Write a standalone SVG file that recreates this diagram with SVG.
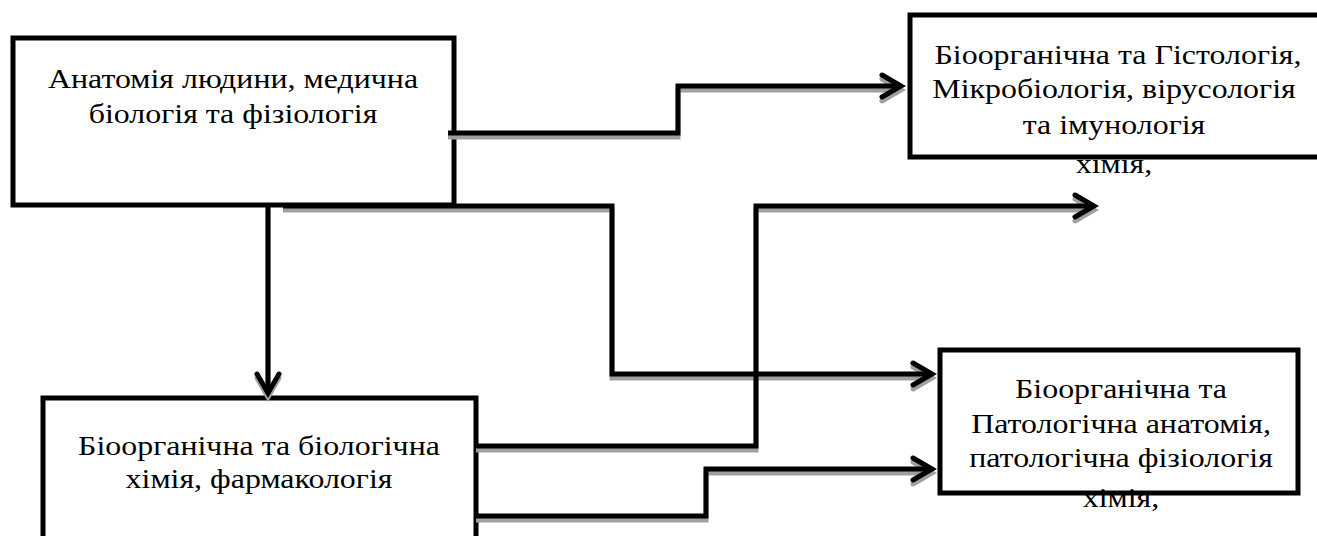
<svg xmlns="http://www.w3.org/2000/svg" width="1317" height="536" viewBox="0 0 1317 536">
<style>
.box{fill:#fff;stroke:#000;stroke-width:5}
.t{font-family:'Liberation Serif','Times New Roman',serif;font-size:28px;fill:#000;text-anchor:middle}
.ln{fill:none;stroke:#000;stroke-width:5;stroke-linejoin:miter}
.sh{fill:none;stroke:#a0a0a0;stroke-width:5;stroke-linejoin:miter}
</style>
<defs>
<marker id="ah" markerUnits="userSpaceOnUse" markerWidth="40" markerHeight="40" viewBox="-30 -20 40 40" refX="0" refY="0" orient="auto" overflow="visible">
<path d="M-19,-11 L0,0 L-19,11" fill="none" stroke="#000" stroke-width="5" stroke-linecap="round"/>
</marker>
<marker id="ahs" markerUnits="userSpaceOnUse" markerWidth="40" markerHeight="40" viewBox="-30 -20 40 40" refX="0" refY="0" orient="auto" overflow="visible">
<path d="M-19,-11 L0,0 L-19,11" fill="none" stroke="#a0a0a0" stroke-width="5" stroke-linecap="round"/>
</marker>
</defs>
<g id="node-anatomy">
<rect class="box" x="13" y="38" width="441" height="167"/>
</g>
<g id="node-histology">
<rect class="box" x="910" y="15" width="420" height="142"/>
</g>
<g id="node-biochem">
<rect class="box" x="43" y="398" width="433" height="160"/>
</g>
<g id="node-pathology">
<rect class="box" x="940" y="350" width="358" height="143"/>
</g>
<g id="connectors">
<g transform="translate(0,4)">
<path class="sh" d="M448,133 H678 V86 H901" marker-end="url(#ahs)"/>
<path class="sh" d="M268,205 V393" marker-end="url(#ahs)"/>
<path class="sh" d="M283,206 H612 V374 H932" marker-end="url(#ahs)"/>
<path class="sh" d="M476,446 H756 V206 H1094" marker-end="url(#ahs)"/>
<path class="sh" d="M476,516 H706 V469 H932" marker-end="url(#ahs)"/>
</g>
<path class="ln" d="M448,133 H678 V86 H901" marker-end="url(#ah)"/>
<path class="ln" d="M268,205 V393" marker-end="url(#ah)"/>
<path class="ln" d="M283,206 H612 V374 H932" marker-end="url(#ah)"/>
<path class="ln" d="M476,446 H756 V206 H1094" marker-end="url(#ah)"/>
<path class="ln" d="M476,516 H706 V469 H932" marker-end="url(#ah)"/>
</g>
<g id="labels">
<text class="t" transform="translate(233,88) scale(1.14,1)">Анатомія людини, медична</text>
<text class="t" transform="translate(233,123) scale(1.14,1)">біологія та фізіологія</text>
<text class="t" transform="translate(1118,64) scale(1.14,1)">Біоорганічна та Гістологія,</text>
<text class="t" transform="translate(1114,98) scale(1.14,1)">Мікробіологія, вірусологія</text>
<text class="t" transform="translate(1114,134) scale(1.14,1)">та імунологія</text>
<text class="t" transform="translate(1114,173) scale(1.14,1)">хімія,</text>
<text class="t" transform="translate(259,455) scale(1.14,1)">Біоорганічна та біологічна</text>
<text class="t" transform="translate(259,488) scale(1.14,1)">хімія, фармакологія</text>
<text class="t" transform="translate(1121,398) scale(1.14,1)">Біоорганічна та</text>
<text class="t" transform="translate(1121,433) scale(1.14,1)">Патологічна анатомія,</text>
<text class="t" transform="translate(1121,467) scale(1.14,1)">патологічна фізіологія</text>
<text class="t" transform="translate(1121,507) scale(1.14,1)">хімія,</text>
</g>
</svg>
